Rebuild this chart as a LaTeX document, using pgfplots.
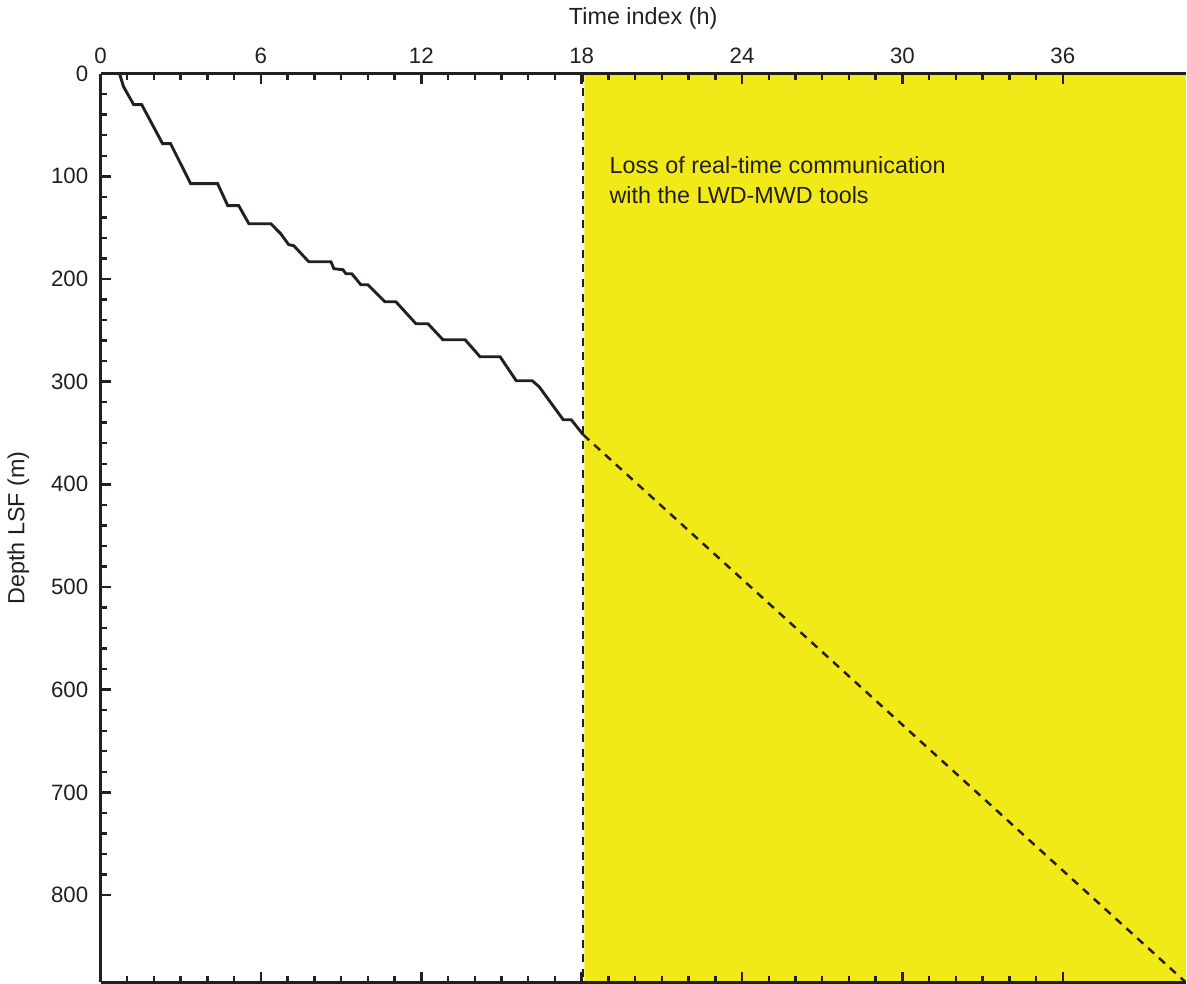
\documentclass[border=0pt]{standalone}
\usepackage{pgfplots}
\pgfplotsset{compat=1.18}
\usepackage{fontspec}
\setmainfont{Liberation Sans}
\definecolor{ylw}{RGB}{242,234,24}
\definecolor{ink}{RGB}{35,31,32}
\begin{document}
\begin{tikzpicture}
\begin{axis}[
  scale only axis,
  width=488pt, height=408.6pt,
  xmin=0, xmax=40.6, ymin=0, ymax=885,
  y dir=reverse,
  axis x line=box, axis y line=left,
  y axis line style={-},
  axis line style={ink, line width=1.1pt},
  axis on top,
  xtick={0,6,...,36}, ytick={0,100,...,800},
  minor x tick num=5, minor y tick num=4,
  tick align=inside,
  xtick pos=both, ytick pos=left,
  xticklabel pos=top,
  major tick length=4.5pt, minor tick length=2.8pt,
  every tick/.style={ink, line width=1.1pt},
  xlabel={Time index (h)}, ylabel={Depth LSF (m)},
  xlabel style={font=\fontsize{10.5}{12}\selectfont, text=ink},
  ylabel style={font=\fontsize{10.5}{12}\selectfont, text=ink},
  ticklabel style={font=\fontsize{10}{12}\selectfont, text=ink},
  yticklabel shift=2pt, ylabel shift=3pt,
  xticklabel shift=1pt, xlabel shift=1.5pt,
  /pgf/number format/assume math mode=true,
  clip=true,
]
\addplot[draw=none, fill=ylw] coordinates {(18.1,-5) (41,-5) (41,890) (18.1,890)} \closedcycle;
\addplot[ink, line width=1.1pt, dash pattern=on 3.6pt off 3pt] coordinates {(18.05,0) (18.05,885)};
\addplot[ink, line width=1.3pt] coordinates {
(0.71,0) (0.86,12.7) (1.24,30.2) (1.54,30.2) (2.32,68.2) (2.62,68.2)
(3.37,107.2) (4.38,107.2) (4.76,128.6) (5.17,128.6) (5.55,146.2) (6.37,146.2)
(6.74,155.9) (7.04,166.6) (7.23,167.6) (7.79,183.2) (8.62,183.2) (8.73,190)
(9.07,191) (9.18,194.9) (9.40,194.9) (9.74,205.6) (10.00,205.6) (10.64,222.2)
(11.05,222.2) (11.80,243.6) (12.25,243.6) (12.81,259.2) (13.64,259.2)
(14.20,275.8) (14.95,275.8) (15.55,299.1) (16.15,299.1) (16.41,305)
(17.31,337.1) (17.61,337.1) (18.06,351.8)
};
\addplot[ink, line width=1.1pt, dash pattern=on 3.6pt off 3pt] coordinates {(18.06,351.8) (40.6,885)};
\node[anchor=west, align=left, text=ink, font=\fontsize{10.5}{13.5}\selectfont] at (axis cs:18.75,104) {Loss of real-time communication\\with the LWD-MWD tools};
\end{axis}
\end{tikzpicture}
\end{document}
